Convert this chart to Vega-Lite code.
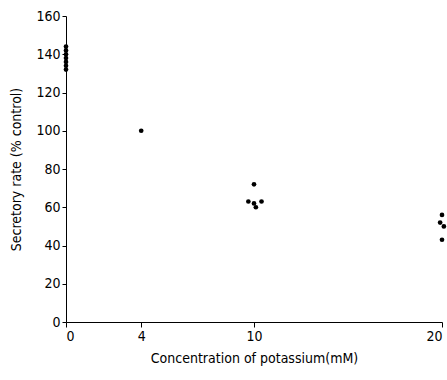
{
  "$schema": "https://vega.github.io/schema/vega-lite/v6.json",
  "width": 376,
  "height": 306,
  "autosize": "none",
  "padding": {"left": 66, "top": 16, "right": 5, "bottom": 58},
  "background": "white",
  "config": {
    "view": {"stroke": null},
    "font": "DejaVu Sans Condensed",
    "axis": {
      "grid": false,
      "domainColor": "black",
      "tickColor": "black",
      "labelColor": "black",
      "titleColor": "black",
      "labelFont": "DejaVu Sans Condensed",
      "titleFont": "DejaVu Sans Condensed",
      "labelFontSize": 14,
      "titleFontSize": 14,
      "titleFontWeight": "normal"
    }
  },
  "data": {
    "values": [
      {"k": 0, "rate": 132},
      {"k": 0, "rate": 134},
      {"k": 0, "rate": 136},
      {"k": 0, "rate": 138},
      {"k": 0, "rate": 140},
      {"k": 0, "rate": 142},
      {"k": 0, "rate": 144},
      {"k": 4, "rate": 100},
      {"k": 10, "rate": 72},
      {"k": 9.7, "rate": 63},
      {"k": 10, "rate": 62},
      {"k": 10.4, "rate": 63},
      {"k": 10.1, "rate": 60},
      {"k": 20, "rate": 56},
      {"k": 19.9, "rate": 52},
      {"k": 20.1, "rate": 50},
      {"k": 20, "rate": 43}
    ]
  },
  "mark": {"type": "circle", "color": "black", "opacity": 1, "size": 22, "clip": false},
  "encoding": {
    "x": {
      "field": "k",
      "type": "quantitative",
      "scale": {"domain": [0, 20], "nice": false, "zero": true},
      "axis": {
        "title": "Concentration of potassium(mM)",
        "values": [0, 4, 10, 20],
        "tickSize": 5,
        "labelPadding": 2,
        "titlePadding": 8
      }
    },
    "y": {
      "field": "rate",
      "type": "quantitative",
      "scale": {"domain": [0, 160], "nice": false},
      "axis": {
        "title": "Secretory rate (% control)",
        "values": [0, 20, 40, 60, 80, 100, 120, 140, 160],
        "tickSize": 4,
        "labelPadding": 2,
        "titlePadding": 12
      }
    }
  }
}
